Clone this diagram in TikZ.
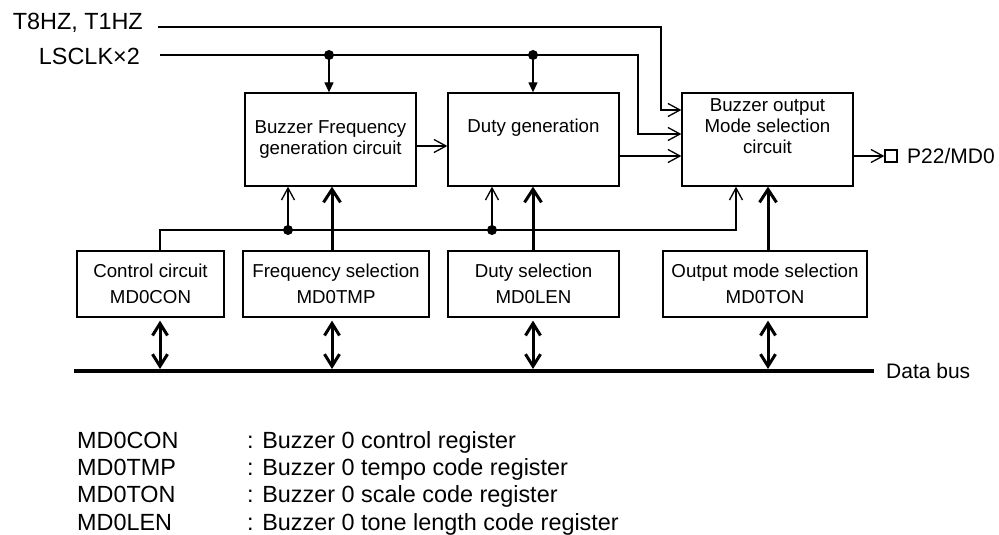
\documentclass[tikz,border=0pt]{standalone}
\usepackage{fontspec}
\setmainfont{Liberation Sans}
\usetikzlibrary{arrows.meta}
\begin{document}
\begin{tikzpicture}[x=1pt,y=-1pt,
  wire/.style={line width=1.3pt},
  box/.style={draw, line width=1.3pt, inner sep=0pt, align=center},
  topbox/.style={box, minimum width=171pt, minimum height=93pt, font=\fontsize{18.7}{21.3}\selectfont},
  regbox/.style={box, minimum height=66pt, font=\fontsize{18.7}{26}\selectfont},
  boxtext/.style={inner sep=0pt, align=center, font=\fontsize{18.7}{21.3}\selectfont},
  bigtext/.style={inner sep=0pt, font=\fontsize{23.4}{28}\selectfont},
  midtext/.style={inner sep=0pt, font=\fontsize{21}{25}\selectfont},
  bar/.style={-{Straight Barb[length=12pt,width=13pt]}, line width=1.3pt},
  tri/.style={-{Triangle[length=10pt,width=9pt]}, line width=1.3pt},
  fat/.style={-{Straight Barb[length=13pt,width=17pt]}, line width=3pt},
  fatboth/.style={{Straight Barb[length=12pt,width=15pt]}-{Straight Barb[length=12pt,width=15pt]}, line width=3pt, shorten <=3pt, shorten >=2pt},
  dot/.style={circle, fill, inner sep=0pt, minimum size=10pt}
]
\useasboundingbox (0,0) rectangle (999,535);

% main blocks
\node[topbox] (b1) at (330.5,139.5) {Buzzer Frequency\\generation circuit};
\node[topbox] (b2) at (533.5,139.5) {};
\node[boxtext, anchor=base] (b2t) at (533.5,132.7) {Duty generation};
\node[topbox] (b3) at (767.5,139.5) {};
\node[boxtext] (b3t) at (767.5,126) {Buzzer output\\Mode selection\\circuit};

% register blocks
\node[regbox, minimum width=147pt] (c1) at (150.5,284) {Control circuit\\MD0CON};
\node[regbox, minimum width=186pt] (c2) at (336,284) {Frequency selection\\MD0TMP};
\node[regbox, minimum width=171pt] (c3) at (533.5,284) {Duty selection\\MD0LEN};
\node[regbox, minimum width=204pt] (c4) at (765,284) {Output mode selection\\MD0TON};

% input labels
\node[bigtext, anchor=base east] (t8) at (143,30) {T8HZ, T1HZ};
\node[bigtext, anchor=base east] (ls) at (140,65) {LSCLK×2};

% input signal lines
\coordinate (t8s) at (158,27);
\coordinate (t8c) at (661,27);
\coordinate (lss) at (160,55);
\coordinate (lsc) at (638,55);
\coordinate (l1) at (329,55);
\coordinate (l2) at (533,55);
\draw[bar] (t8s) -- (t8c) |- (b3.west |- 0,110);
\draw[bar] (lss) -- (lsc) |- (b3.west |- 0,134);
\draw[tri] (l1) -- (l1 |- b1.north);
\draw[tri] (l2) -- (l2 |- b2.north);
\node[dot] at (l1) {};
\node[dot] at (l2) {};

% block to block
\draw[bar] (b1.east |- 0,146) -- (b2.west |- 0,146);
\draw[bar] (b2.east |- 0,156) -- (b3.west |- 0,156);

% output pin
\node[draw, line width=1.3pt, minimum size=12pt, inner sep=0pt] (pin) at (891,156) {};
\draw[bar] (b3.east |- pin) -- (pin.west);
\node[midtext, anchor=base west] (p22) at (907,163) {P22/MD0};

% control line
\coordinate (k0) at (160,230);
\coordinate (d1) at (288,230);
\coordinate (d2) at (492,230);
\coordinate (k1) at (736,230);
\draw[bar] (c1.north -| k0) -- (k0) -- (k1) -- (k1 |- b3.south);
\draw[bar] (d1) -- (d1 |- b1.south);
\draw[bar] (d2) -- (d2 |- b2.south);
\node[dot] at (d1) {};
\node[dot] at (d2) {};

% selection to blocks
\draw[fat] ([xshift=-4pt]c2.north) -- ([xshift=-4pt]c2.north |- b1.south);
\draw[fat] ([xshift=-0.5pt]c3.north) -- ([xshift=-0.5pt]c3.north |- b2.south);
\draw[fat] ([xshift=3pt]c4.north) -- ([xshift=3pt]c4.north |- b3.south);

% data bus
\coordinate (busL) at (74,371);
\coordinate (busR) at (874,371);
\draw[line width=4pt] (busL) -- (busR);
\node[midtext, anchor=base west] (db) at (886,378.3) {Data bus};
\draw[fatboth] ([xshift=9.5pt]c1.south) -- ([xshift=9.5pt]c1.south |- busL);
\draw[fatboth] ([xshift=-4pt]c2.south) -- ([xshift=-4pt]c2.south |- busL);
\draw[fatboth] ([xshift=-0.5pt]c3.south) -- ([xshift=-0.5pt]c3.south |- busL);
\draw[fatboth] ([xshift=3pt]c4.south) -- ([xshift=3pt]c4.south |- busL);

% legend
\node[bigtext, anchor=base west] (n1) at (77,448.3) {MD0CON};
\node[bigtext, anchor=base west] (n2) at (77,475.6) {MD0TMP};
\node[bigtext, anchor=base west] (n3) at (77,502.9) {MD0TON};
\node[bigtext, anchor=base west] (n4) at (77,530.2) {MD0LEN};
\node[bigtext, anchor=base west] (e1) at (247,448.3) {: Buzzer 0 control register};
\node[bigtext, anchor=base west] (e2) at (247,475.6) {: Buzzer 0 tempo code register};
\node[bigtext, anchor=base west] (e3) at (247,502.9) {: Buzzer 0 scale code register};
\node[bigtext, anchor=base west] (e4) at (247,530.2) {: Buzzer 0 tone length code register};
\end{tikzpicture}
\end{document}
